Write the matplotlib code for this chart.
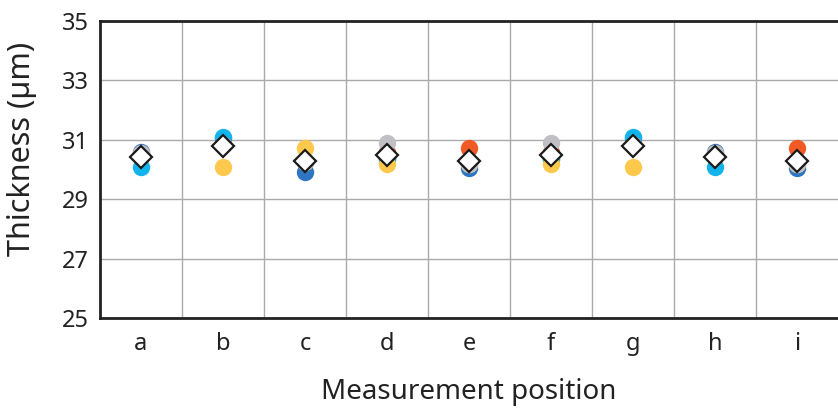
import numpy as np
import matplotlib.pyplot as plt

plt.rcParams['font.family'] = ['Noto Sans', 'DejaVu Sans']

positions = ["a", "b", "c", "d", "e", "f", "g", "h", "i"]

# thickness per sample (um)
blue   = [30.60, 31.05, 29.90, 30.35, 30.05, 30.35, 31.05, 30.60, 30.05]
cyan   = [30.10, 31.10, 30.25, 30.35, 30.20, 30.35, 31.10, 30.10, 30.20]
yellow = [30.45, 30.10, 30.72, 30.17, 30.20, 30.17, 30.10, 30.45, 30.20]
orange = [30.45, 30.83, 30.24, 30.60, 30.72, 30.60, 30.83, 30.45, 30.72]
gray   = [30.55, 30.83, 30.24, 30.90, 30.20, 30.90, 30.83, 30.55, 30.20]

series = [blue, cyan, yellow, orange, gray]
colors = ["#2e75c2", "#12b4ec", "#fdc94d", "#f15a24", "#c0c0c4"]

x = np.arange(len(positions))
average = np.mean(np.array(series), axis=0)

fig = plt.figure(figsize=(8.38, 4.09), dpi=100)
ax = fig.add_axes([0.1193, 0.2225, 0.8807, 0.7262])

for vals, c in zip(series, colors):
    ax.plot(x, vals, "o", color=c, markersize=12.5, markeredgewidth=0, zorder=3)
ax.plot(x, average, "D", markerfacecolor="white", markeredgecolor="#1a1a1a",
        markersize=11.5, markeredgewidth=1.6, zorder=4)

ax.set_xlim(-0.5, len(positions) - 0.5)
ax.set_ylim(25, 35)
ax.set_yticks([25, 27, 29, 31, 33, 35])
ax.set_xticks(x)
ax.set_xticklabels(positions)
ax.set_xticks(x[:-1] + 0.5, minor=True)
ax.tick_params(axis="both", which="both", length=0, labelsize=17, colors="#222222")
ax.tick_params(axis="y", pad=8)
ax.tick_params(axis="x", pad=10)
ax.grid(True, axis="y", which="major", color="#aaaaaa", linewidth=1)
ax.grid(True, axis="x", which="minor", color="#aaaaaa", linewidth=1)
ax.grid(False, axis="x", which="major")

for s in ["left", "bottom", "top"]:
    ax.spines[s].set_linewidth(2)
    ax.spines[s].set_color("#222222")
ax.spines["right"].set_visible(False)

ax.set_ylabel("Thickness (µm)", fontsize=22, color="#222222")
ax.yaxis.set_label_coords(-0.086, 0.57)
ax.set_xlabel("Measurement position", fontsize=20, color="#222222", labelpad=16)

fig.savefig("out.png", dpi=100)
